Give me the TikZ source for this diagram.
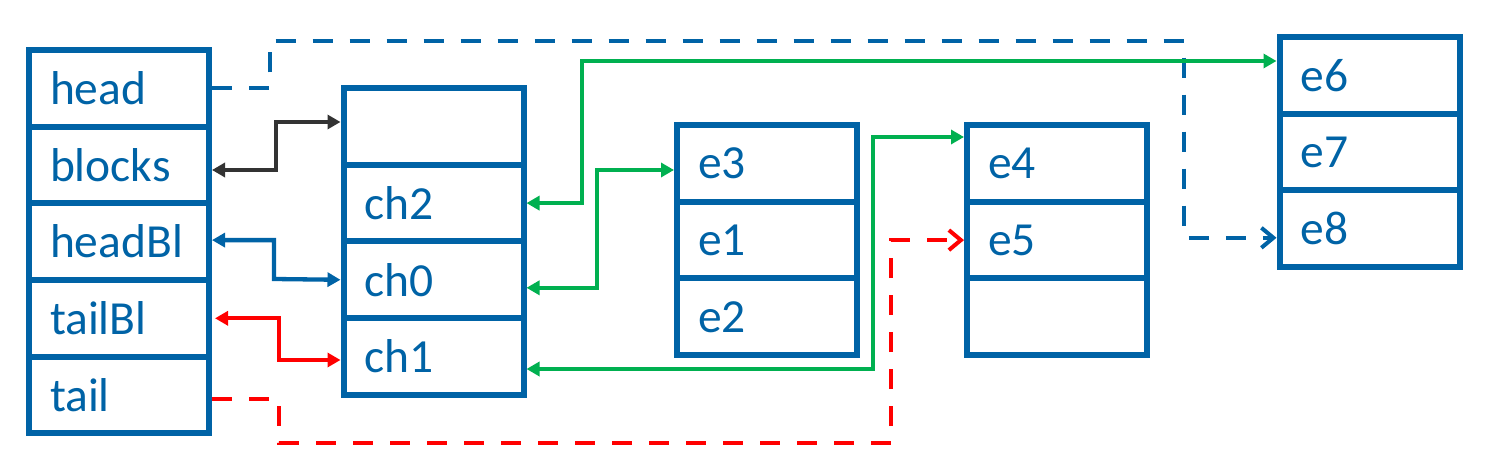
\documentclass[tikz,border=0pt]{standalone}
\usepackage{fontspec}
\setmainfont{Carlito}
\usetikzlibrary{arrows.meta,calc}
\definecolor{cblue}{RGB}{0,99,166}
\definecolor{cgreen}{RGB}{0,176,80}
\definecolor{cred}{RGB}{255,0,0}
\definecolor{cdark}{RGB}{51,51,51}
\begin{document}
\begin{tikzpicture}[x=1pt,y=-1pt,
  cell/.style={draw=cblue, line width=6pt, minimum height=76.7pt,
    text width=138pt, inner xsep=21pt, inner ysep=0pt, align=left,
    text=cblue, font=\fontsize{47.5}{52}\selectfont},
  conn/.style={line width=4.3pt},
  dconn/.style={line width=4.3pt, dash pattern=on 20pt off 17pt},
  both/.style={{Triangle[length=13pt,width=14pt]}-{Triangle[length=13pt,width=14pt]}},
  barb/.style={-{Straight Barb[length=12pt,width=20pt,line width=4pt]}}
]
\useasboundingbox (0,0) rectangle (1508,476);
% left block
\node[cell] (head)   at (119,88.3)  {head};
\node[cell] (blocks) at (119,165)   {blocks};
\node[cell] (headBl) at (119,241.6) {headBl};
\node[cell] (tailBl) at (119,318.3) {tailBl};
\node[cell] (tail)   at (119,395)   {tail};
% chunk block
\node[cell] (chE) at (433.5,126.4) {};
\node[cell] (ch2) at (433.5,203.1) {ch2};
\node[cell] (ch0) at (433.5,279.8) {ch0};
\node[cell] (ch1) at (433.5,356.5) {ch1};
% element blocks
\node[cell] (e3) at (767,163.4) {e3};
\node[cell] (e1) at (767,240.1) {e1};
\node[cell] (e2) at (767,316.8) {e2};
\node[cell] (e4) at (1057,163.4) {e4};
\node[cell] (e5) at (1057,240.1) {e5};
\node[cell] (eE) at (1057,316.8) {};
\node[cell] (e6) at (1369.5,75.4)  {e6};
\node[cell] (e7) at (1369.5,152.1) {e7};
\node[cell] (e8) at (1369.5,228.8) {e8};
% waypoints
\coordinate (hA) at (270,41);
\coordinate (hB) at (1184,41);
\coordinate (bA) at (276,122);
\coordinate (hbA) at (274,279);
\coordinate (tbA) at (279,360);
\coordinate (tA) at (279,443);
\coordinate (tB) at (891,443);
\coordinate (gA) at (582,61);
\coordinate (gB) at (597,170);
\coordinate (gC) at (873,137);
% connectors
\draw[dconn, draw=cblue, barb, cblue] (head.east) -| (hA) -- (hB) |- ($(e8.west)+(0,9)$);
\draw[dconn, draw=cred, barb, cred] ($(tail.east)+(0,4)$) -| (tA) -- (tB) |- (e5.west);
\draw[conn, cdark, both] ($(blocks.east)+(0,5)$) -| (bA) -- ($(chE.west)+(0,-4.4)$);
\draw[conn, cblue, both] ($(headBl.east)+(0,-1.5)$) -| (hbA) -- (ch0.west);
\draw[conn, cred, both] ($(tailBl.east)+(3,0)$) -| (tbA) -- ($(ch1.west)+(0,3.5)$);
\draw[conn, cgreen, both] (ch2.east) -| (gA) -- ($(e6.west)+(0,-14.4)$);
\draw[conn, cgreen, both] ($(ch0.east)+(0,8)$) -| (gB) -- ($(e3.west)+(0,6.6)$);
\draw[conn, cgreen, both] ($(ch1.east)+(0,12.5)$) -| (gC) -- ($(e4.west)+(0,-26.4)$);
\end{tikzpicture}
\end{document}
